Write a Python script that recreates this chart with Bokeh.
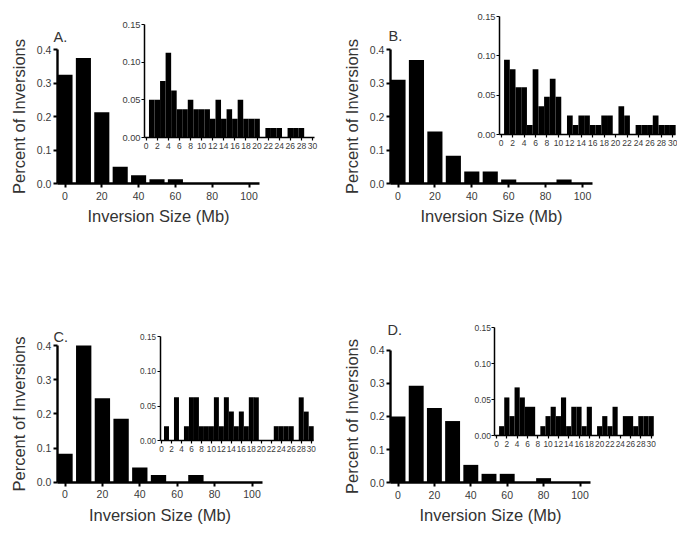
from bokeh.plotting import figure
from bokeh.models import (Range1d, LinearAxis, FixedTicker, NumeralTickFormatter,
                          Label, ColumnDataSource)
from bokeh.embed import file_html
from bokeh.resources import INLINE

# ---------------- data ----------------
main_bins = [0, 10, 20, 30, 40, 50, 60, 70, 80, 90]
inset_bins = list(range(1, 31))

A_main = [0.325, 0.375, 0.2125, 0.05, 0.025, 0.0125, 0.0125, 0, 0, 0]
B_main = [0.31, 0.369, 0.155, 0.083, 0.036, 0.036, 0.012, 0, 0, 0.012]
C_main = [0.083, 0.40, 0.246, 0.186, 0.043, 0.021, 0, 0.021, 0, 0]
D_main = [0.20, 0.292, 0.225, 0.186, 0.054, 0.027, 0.027, 0, 0.014, 0]

A_inset = [0.05, 0.05, 0.075, 0.1125, 0.0625, 0.0375, 0.0375, 0.05, 0.0375, 0.0375,
           0.0375, 0.025, 0.05, 0.025, 0.0375, 0.025, 0.05, 0.025, 0.025, 0.025,
           0, 0.0125, 0.0125, 0.0125, 0, 0.0125, 0.0125, 0.0125, 0, 0]
B_inset = [0.095, 0.083, 0.06, 0.06, 0.012, 0.083, 0.036, 0.048, 0.071, 0.048,
           0, 0.024, 0.012, 0.024, 0.024, 0.012, 0.012, 0.024, 0.024, 0,
           0.036, 0.024, 0, 0.012, 0.012, 0.012, 0.024, 0.012, 0.012, 0.012]
C_inset = [0.021, 0, 0.0625, 0, 0.021, 0.0625, 0.0625, 0.021, 0.021, 0.021,
           0.0625, 0.021, 0.0625, 0.042, 0.021, 0.042, 0.021, 0.0625, 0.0625, 0,
           0, 0, 0.021, 0.021, 0.021, 0.021, 0, 0.0625, 0.042, 0.021]
D_inset = [0.013, 0.053, 0.027, 0.067, 0.053, 0.04, 0.04, 0, 0.013, 0.027,
           0.04, 0.027, 0.053, 0.013, 0.04, 0.04, 0.013, 0.04, 0, 0.013,
           0.027, 0.013, 0.04, 0, 0.027, 0.027, 0.013, 0.027, 0.027, 0.027]

panel_letters = ["A.", "B.", "C.", "D."]
main_xticks = [0, 20, 40, 60, 80, 100]
main_yticks = [0.0, 0.1, 0.2, 0.3, 0.4]
inset_xticks = list(range(0, 31, 2))
inset_yticks = [0.0, 0.05, 0.10, 0.15]
x_title = "Inversion Size (Mb)"
y_title = "Percent of Inversions"

# ---------------- layout (pixel calibration of each sub-plot) ----------------
W, H = 677, 525
FONT = "Liberation Sans"
TXT = "#333333"

# (value, px, value, px) calibrations in picture pixels
layout = {
    "A": dict(main_x=(0, 64.5, 100, 248.5), main_y=(0, 183, 0.4, 49),
              ins_x=(0, 145.7, 30, 312), ins_y=(0, 137, 0.15, 24), letter=(53, 36.5),
              ins_fs=("8.5px", "9.3px")),
    "B": dict(main_x=(0, 397.5, 100, 582), main_y=(0, 183, 0.4, 49),
              ins_x=(0, 500.7, 30, 672.3), ins_y=(0, 134, 0.15, 16), letter=(388, 35),
              ins_fs=("8.5px", "9.3px")),
    "C": dict(main_x=(0, 64.5, 100, 251.5), main_y=(0, 481.7, 0.4, 345),
              ins_x=(0, 161, 30, 310.7), ins_y=(0, 440.3, 0.15, 336), letter=(53, 336),
              ins_fs=("8.2px", "8.2px")),
    "D": dict(main_x=(0, 397.5, 100, 579.5), main_y=(0, 482.3, 0.4, 349.5),
              ins_x=(0, 496, 30, 650.7), ins_y=(0, 435, 0.15, 327.3), letter=(387, 329),
              ins_fs=("8.3px", "8.5px")),
}


def xrange_from(v0, p0, v1, p1):
    s = (p1 - p0) / (v1 - v0)
    start = v0 - p0 / s
    return Range1d(start, start + W / s)


def yrange_from(v0, p0, v1, p1):
    s = (p0 - p1) / (v1 - v0)
    start = v0 - (H - p0) / s
    return Range1d(start, start + H / s)


p = figure(width=W, height=H, output_backend="svg", toolbar_location=None,
           x_range=Range1d(0, W), y_range=Range1d(0, H),
           x_axis_type=None, y_axis_type=None, min_border=0)
p.outline_line_color = None
p.background_fill_color = "white"
p.border_fill_color = "white"


def style_axis(ax, main, fs=None):
    ax.axis_line_color = "black"
    ax.major_tick_line_color = "black"
    ax.minor_tick_line_color = None
    ax.major_tick_in = 0
    ax.major_label_text_font = FONT
    ax.major_label_text_color = "#3a3a3a"
    if main:
        ax.axis_line_width = 2.4
        ax.major_tick_line_width = 2
        ax.major_tick_out = 4
        ax.major_label_text_font_size = "10.5px"
        ax.axis_label_text_font = FONT
        ax.axis_label_text_font_size = "16.5px"
        ax.axis_label_text_font_style = "normal"
        ax.axis_label_text_color = TXT
    else:
        ax.axis_line_width = 1.5
        ax.major_tick_line_width = 1.2
        ax.major_tick_out = 3
        ax.major_label_text_font_size = fs


panels = [("A", A_main, A_inset), ("B", B_main, B_inset),
          ("C", C_main, C_inset), ("D", D_main, D_inset)]

for i, (key, main_vals, inset_vals) in enumerate(panels):
    L = layout[key]
    mx, my, ix, iy = f"{key}mx", f"{key}my", f"{key}ix", f"{key}iy"
    p.extra_x_ranges[mx] = xrange_from(*L["main_x"])
    p.extra_y_ranges[my] = yrange_from(*L["main_y"])
    p.extra_x_ranges[ix] = xrange_from(*L["ins_x"])
    p.extra_y_ranges[iy] = yrange_from(*L["ins_y"])

    src_m = ColumnDataSource(dict(x=main_bins, top=main_vals))
    p.vbar(x="x", top="top", bottom=0, width=8.2, source=src_m,
           x_range_name=mx, y_range_name=my, fill_color="black", line_color=None)
    src_i = ColumnDataSource(dict(x=inset_bins, top=inset_vals))
    p.vbar(x="x", top="top", bottom=0, width=1.0, source=src_i,
           x_range_name=ix, y_range_name=iy, fill_color="black", line_color=None)

    # main axes
    xa = LinearAxis(x_range_name=mx, y_range_name=my, fixed_location=0,
                    bounds=(-4.1, 105.5), ticker=FixedTicker(ticks=main_xticks),
                    formatter=NumeralTickFormatter(format="0"),
                    axis_label=x_title, axis_label_standoff=4,
                    major_label_standoff=4)
    style_axis(xa, True)
    p.add_layout(xa, "below")
    ya = LinearAxis(x_range_name=mx, y_range_name=my, fixed_location=-4.1,
                    bounds=(0, 0.4), ticker=FixedTicker(ticks=main_yticks),
                    formatter=NumeralTickFormatter(format="0.0"),
                    axis_label=y_title, axis_label_standoff=6,
                    major_label_standoff=2)
    style_axis(ya, True)
    p.add_layout(ya, "left")

    # inset axes
    fs_x, fs_y = L["ins_fs"]
    ixa = LinearAxis(x_range_name=ix, y_range_name=iy, fixed_location=0,
                     bounds=(-0.3, 30.4), ticker=FixedTicker(ticks=inset_xticks),
                     formatter=NumeralTickFormatter(format="0"),
                     major_label_standoff=2)
    style_axis(ixa, False, fs_x)
    p.add_layout(ixa, "below")
    iya = LinearAxis(x_range_name=ix, y_range_name=iy, fixed_location=-0.3,
                     bounds=(0, 0.15), ticker=FixedTicker(ticks=inset_yticks),
                     formatter=NumeralTickFormatter(format="0.00"),
                     major_label_standoff=1)
    style_axis(iya, False, fs_y)
    p.add_layout(iya, "left")

    lx, ly = L["letter"]
    p.add_layout(Label(x=lx, y=H - ly, x_units="screen", y_units="screen",
                       text=panel_letters[i], text_font=FONT, text_font_size="14.5px",
                       text_color=TXT, text_baseline="alphabetic"))

open("out.html", "w").write(file_html(p, INLINE))
